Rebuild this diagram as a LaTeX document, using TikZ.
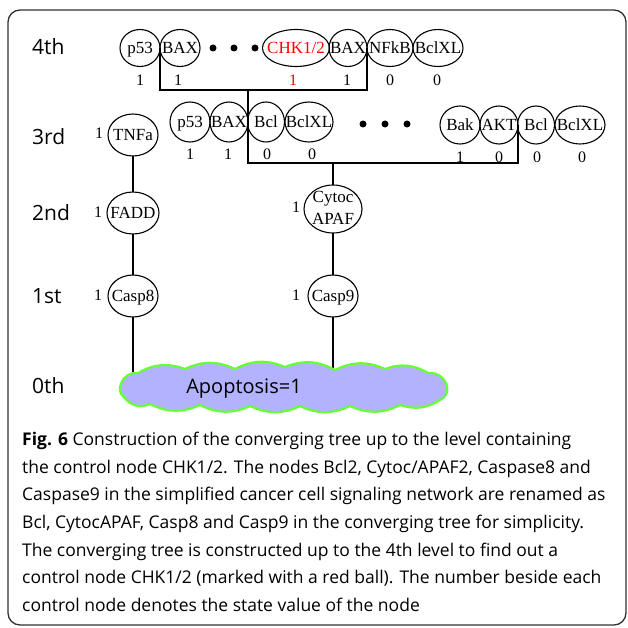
\documentclass[tikz,border=0pt]{standalone}
\usepackage{fontspec}
\setmainfont{Liberation Serif}
\newfontfamily\capfont{Open Sans}
\usetikzlibrary{shapes.geometric}
\definecolor{cloudfill}{RGB}{178,178,255}
\definecolor{cloudline}{RGB}{102,255,51}
\definecolor{framegray}{RGB}{50,50,50}
\newcommand{\ntxt}[1]{\makebox[0pt]{\raisebox{-0.34em}[0pt][0pt]{#1}}}
\newcommand{\ntxtat}[2]{\makebox[0pt]{\raisebox{#1}[0pt][0pt]{#2}}}
\begin{document}
\begin{tikzpicture}[x=1pt,y=-1pt,
  gn/.style={ellipse,draw,line width=1.1pt,inner sep=0pt,outer sep=0pt,minimum height=37pt,font=\fontsize{17}{17}\selectfont},
  num/.style={font=\fontsize{16}{16}\selectfont,inner sep=0pt},
  lvl/.style={font=\capfont\fontsize{21}{21}\selectfont,anchor=base west,inner sep=0pt},
  captionline/.style={font=\capfont\fontsize{17.5}{20}\selectfont,anchor=base west,inner sep=0pt},
  conn/.style={line width=1.2pt},
  bigdot/.style={circle,fill,inner sep=0pt,minimum size=7pt}]
\useasboundingbox (0,0) rectangle (627,628);
\clip (0,0) rectangle (627,628);
\draw[framegray,line width=1.3pt,rounded corners=12pt] (8,10) rectangle (626,625);

% level labels
\node[lvl] (l4) at (32,55) {4th};
\node[lvl] (l3) at (32,145) {3rd};
\node[lvl] (l2) at (32,221) {2nd};
\node[lvl] (l1) at (32,303) {1st};
\node[lvl] (l0) at (32,393) {0th};

% row 4
\node[gn,minimum width=40pt] (a1) at (140,48) {\ntxt{p53}};
\node[gn,minimum width=40pt] (a2) at (180,48) {\ntxt{BAX}};
\node[bigdot] (d1) at (213,48) {};
\node[bigdot] (d2) at (234,48) {};
\node[bigdot] (d3) at (255,48) {};
\node[gn,minimum width=67pt,text=red] (a3) at (296,48) {\ntxt{CHK1/2}};
\node[gn,minimum width=38pt] (a4) at (348,48) {\ntxt{BAX}};
\node[gn,minimum width=46pt] (a5) at (390,48) {\ntxt{NFkB}};
\node[gn,minimum width=50pt] (a6) at (438,48) {\ntxt{BclXL}};
\node[num] (n1) at (140,80) {1};
\node[num] (n2) at (178,80) {1};
\node[num,text=red] (n3) at (293,80) {1};
\node[num] (n4) at (347,80) {1};
\node[num] (n5) at (390,80) {0};
\node[num] (n6) at (437,80) {0};

% row 3
\node[gn,minimum width=40pt,minimum height=40pt] (b1) at (190,122) {\ntxt{p53}};
\node[gn,minimum width=38pt,minimum height=40pt] (b2) at (229,122) {\ntxt{BAX}};
\node[gn,minimum width=37pt,minimum height=40pt] (b3) at (266,122) {\ntxt{Bcl}};
\node[gn,minimum width=48pt,minimum height=40pt] (b4) at (309,122) {\ntxt{BclXL}};
\node[bigdot] (d4) at (363,124) {};
\node[bigdot] (d5) at (385,124) {};
\node[bigdot] (d6) at (407,124) {};
\node[gn,minimum width=40pt,minimum height=38pt] (b5) at (460,125) {\ntxt{Bak}};
\node[gn,minimum width=38pt,minimum height=38pt] (b6) at (499,125) {\ntxt{AKT}};
\node[gn,minimum width=37pt,minimum height=38pt] (b7) at (536,125) {\ntxt{Bcl}};
\node[gn,minimum width=50pt,minimum height=38pt] (b8) at (580,125) {\ntxt{BclXL}};
\node[num] (m1) at (190,154) {1};
\node[num] (m2) at (228,154) {1};
\node[num] (m3) at (267,154) {0};
\node[num] (m4) at (312,154) {0};
\node[num] (m5) at (460,157) {1};
\node[num] (m6) at (499,157) {0};
\node[num] (m7) at (537,157) {0};
\node[num] (m8) at (582,157) {0};

% chains
\node[gn,minimum width=50pt,minimum height=42pt] (tnfa) at (133,135) {\ntxt{TNFa}};
\node[num] (t1) at (99,133) {1};
\node[gn,minimum width=52pt,minimum height=42pt] (fadd) at (133,213) {\ntxt{FADD}};
\node[num] (t2) at (98,212) {1};
\node[gn,minimum width=50pt,minimum height=42pt] (casp8) at (133,296) {\ntxt{Casp8}};
\node[num] (t3) at (98,295) {1};
\node[gn,minimum width=58pt,minimum height=48pt] (cyto) at (333,209) {\ntxtat{6pt}{Cytoc}\ntxtat{-16pt}{APAF}};
\node[num] (t4) at (296,207) {1};
\node[gn,minimum width=50pt,minimum height=42pt] (casp9) at (333,296) {\ntxt{Casp9}};
\node[num] (t5) at (296,295) {1};

% connectors
\coordinate (h4) at (0,90);
\coordinate (h3) at (0,163);
\draw[conn] (a1.east) -- (a1.east |- h4) -| (a5.west);
\draw[conn] (b2.east |- h4) -- (b2.east |- h3) -| (b6.east);
\draw[conn] (cyto.north |- h3) -- (cyto.north);
\draw[conn] (tnfa) -- (fadd);
\draw[conn] (fadd) -- (casp8);
\draw[conn] (cyto) -- (casp9);
\coordinate (e8) at (133,388);
\coordinate (e9) at (333,388);
\draw[conn] (casp8.south) -- (e8);
\draw[conn] (casp9.south) -- (e9);

% cloud
\draw[cloudline,fill=cloudfill,line width=2.2pt]
  (121,384) to[bend left=40] (138,373) to[bend left=25] (185,369)
  to[bend left=25] (235,369) to[bend left=25] (285,367)
  to[bend left=25] (335,370) to[bend left=25] (385,369)
  to[bend left=25] (428,373) to[bend left=40] (447,386)
  to[bend left=40] (440,400) to[bend left=25] (400,405)
  to[bend left=25] (350,406) to[bend left=25] (300,406)
  to[bend left=25] (250,406) to[bend left=25] (200,405)
  to[bend left=25] (150,404) to[bend left=40] (124,397)
  to[bend left=40] cycle;
\node[font=\capfont\fontsize{20}{20}\selectfont,anchor=base,inner sep=0pt] (apo) at (244,393) {Apoptosis=1};

% caption
\node[captionline] (c1) at (22,445) {\textbf{Fig. 6} Construction of the converging tree up to the level containing};
\node[captionline] (c2) at (22,473) {the control node CHK1/2. The nodes Bcl2, Cytoc/APAF2, Caspase8 and};
\node[captionline] (c3) at (22,500) {Caspase9 in the simplified cancer cell signaling network are renamed as};
\node[captionline] (c4) at (22,528) {Bcl, CytocAPAF, Casp8 and Casp9 in the converging tree for simplicity.};
\node[captionline] (c5) at (22,556) {The converging tree is constructed up to the 4th level to find out a};
\node[captionline] (c6) at (22,583) {control node CHK1/2 (marked with a red ball). The number beside each};
\node[captionline] (c7) at (22,611) {control node denotes the state value of the node};
\end{tikzpicture}
\end{document}
